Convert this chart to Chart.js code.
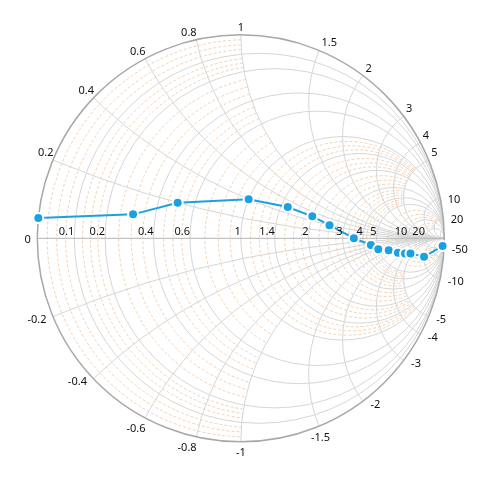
<!DOCTYPE html>
<html>
<head>
<meta charset="utf-8">
<script src="https://cdn.jsdelivr.net/npm/chart.js@4/dist/chart.umd.min.js"></script>
<style>
  html, body { margin: 0; padding: 0; background: #fff; }
  #wrap { width: 491px; height: 479px; }
</style>
</head>
<body>
<div id="wrap"><canvas id="c" width="491" height="479"></canvas></div>
<script>
// ---- data (normalized impedance: resistance + j*reactance) ----
const seriesResistance = [0, 0.3, 0.5, 1, 1.5, 2, 2.5, 3.5, 4.5, 5, 6, 7, 8, 9, 10, 10];
const seriesReactance  = [0.05, 0.1, 0.2, 0.4, 0.5, 0.5, 0.4, 0, -0.5, -1, -1.5, -2.5, -3.5, -4.5, -10, -50];

// ---- axes ----
const resistanceTicks = [0.1, 0.2, 0.4, 0.6, 1, 1.4, 2, 3, 4, 5, 10, 20];
const reactanceTicks  = [0.2, 0.4, 0.6, 0.8, 1, 1.5, 2, 3, 4, 5, 10, 20, 50];
const resistanceLabels = ['0.1', '0.2', '0.4', '0.6', '1', '1.4', '2', '3', '4', '5', '10', '20'];
const reactanceLabels  = ['0', '0.2', '0.4', '0.6', '0.8', '1', '1.5', '2', '3', '4', '5', '10', '20',
                          '-0.2', '-0.4', '-0.6', '-0.8', '-1', '-1.5', '-2', '-3', '-4', '-5', '-10', '-50'];
const minorPerInterval = 3;

function gamma(r, x) {
  // reflection coefficient (z-1)/(z+1)
  const a = r - 1, b = x, c = r + 1, d = x;
  const den = c * c + d * d;
  return { x: (a * c + b * d) / den, y: (b * c - a * d) / den };
}

const points = seriesResistance.map((r, i) => gamma(r, seriesReactance[i]));

const smithGrid = {
  id: 'smithGrid',
  beforeDatasetsDraw(chart) {
    const ctx = chart.ctx, xs = chart.scales.x, ys = chart.scales.y;
    const px = v => xs.getPixelForValue(v), py = v => ys.getPixelForValue(v);
    const cx = px(0), cy = py(0), R = px(1) - cx;
    ctx.save();
    ctx.beginPath();
    ctx.arc(cx, cy, R, 0, Math.PI * 2);
    ctx.clip();

    // minor resistance circles (dashed), clipped by a reactance limit
    const majors = [0].concat(resistanceTicks);
    ctx.setLineDash([3, 2]);
    ctx.strokeStyle = '#f2d2b4';
    ctx.lineWidth = 1;
    for (let i = 0; i < majors.length - 1; i++) {
      const a = majors[i], b = majors[i + 1];
      const lim = b <= 1 ? 1 : (b <= 5 ? 5 : 20);
      for (let k = 1; k <= minorPerInterval; k++) {
        const r = a + (b - a) * k / (minorPerInterval + 1);
        const c = r / (1 + r), rho = 1 / (1 + r);
        const g = gamma(r, lim);
        const th = Math.atan2(g.y, g.x - c);
        ctx.beginPath();
        ctx.arc(px(c), cy, rho * R, -th, th, true);
        ctx.stroke();
      }
    }
    ctx.setLineDash([]);

    // major resistance circles
    ctx.strokeStyle = '#d6d6d6';
    ctx.lineWidth = 1;
    resistanceTicks.forEach(r => {
      const c = r / (1 + r), rho = 1 / (1 + r);
      ctx.beginPath();
      ctx.arc(px(c), cy, rho * R, 0, Math.PI * 2);
      ctx.stroke();
    });
    // major reactance arcs
    reactanceTicks.forEach(xv => {
      [xv, -xv].forEach(x => {
        ctx.beginPath();
        ctx.arc(px(1), py(1 / x), R / Math.abs(x), 0, Math.PI * 2);
        ctx.stroke();
      });
    });
    ctx.restore();

    // horizontal axis
    ctx.save();
    ctx.strokeStyle = '#b4b4b4';
    ctx.lineWidth = 1;
    ctx.beginPath();
    ctx.moveTo(px(-1), cy);
    ctx.lineTo(px(1), cy);
    ctx.stroke();
    // outer circle
    ctx.strokeStyle = '#a8a8a8';
    ctx.lineWidth = 1.5;
    ctx.beginPath();
    ctx.arc(cx, cy, R, 0, Math.PI * 2);
    ctx.stroke();
    ctx.restore();
  },
  afterDatasetsDraw(chart) {
    const ctx = chart.ctx, xs = chart.scales.x, ys = chart.scales.y;
    const px = v => xs.getPixelForValue(v), py = v => ys.getPixelForValue(v);
    const cy = py(0);
    ctx.save();
    ctx.font = '11px "Noto Sans", "DejaVu Sans", sans-serif';
    ctx.fillStyle = '#111';
    // resistance labels on horizontal axis
    ctx.textAlign = 'right';
    ctx.textBaseline = 'alphabetic';
    resistanceTicks.forEach((r, i) => {
      const g = gamma(r, 0);
      ctx.fillText(resistanceLabels[i], px(g.x), cy - 3);
    });
    // reactance labels around the rim
    reactanceLabels.forEach(lbl => {
      const x = parseFloat(lbl);
      const g = x === 0 ? { x: -1, y: 0 } : gamma(0, x);
      const X = px(g.x), Y = py(g.y);
      const ang = Math.atan2(g.y, g.x) * 180 / Math.PI;
      let tx, ty;
      if (ang >= 20 && ang <= 160) {           // top
        ctx.textBaseline = 'alphabetic';
        ty = Y - 4;
        if (Math.abs(g.x) < 0.05) { ctx.textAlign = 'center'; tx = X; }
        else if (g.x < 0) { ctx.textAlign = 'right'; tx = X + 0.5; }
        else { ctx.textAlign = 'left'; tx = X + 2.5; }
      } else if (ang <= -57 && ang >= -125) {  // bottom
        ctx.textBaseline = 'alphabetic';
        ty = Y + 14.5;
        if (Math.abs(g.x) < 0.05) { ctx.textAlign = 'center'; tx = X; }
        else if (g.x < 0) { ctx.textAlign = 'right'; tx = X + 0.5; }
        else { ctx.textAlign = 'center'; tx = X + 1.5; }
      } else {                                 // sides
        ctx.textBaseline = 'alphabetic';
        ty = Y + (ang < 0 ? 6.5 : 4.5);
        if (g.x < 0) { ctx.textAlign = 'right'; tx = X - 6.5; }
        else { ctx.textAlign = 'left'; tx = X + 7.5; }
      }
      ctx.fillText(lbl, tx, ty);
    });
    ctx.restore();
  }
};

new Chart(document.getElementById('c'), {
  type: 'scatter',
  data: {
    datasets: [{
      data: points,
      showLine: true,
      borderColor: '#1ba1e2',
      borderWidth: 2,
      pointRadius: 5,
      pointBackgroundColor: '#1ba1e2',
      pointBorderColor: '#ffffff',
      pointBorderWidth: 2,
      clip: false
    }]
  },
  options: {
    responsive: false,
    animation: false,
    layout: { padding: { left: 37.3, right: 46.7, top: 34.8, bottom: 37.2 } },
    scales: {
      x: { type: 'linear', min: -1, max: 1, display: false },
      y: { type: 'linear', min: -1, max: 1, display: false }
    },
    plugins: { legend: { display: false }, tooltip: { enabled: false } }
  },
  plugins: [smithGrid]
});
</script>
</body>
</html>
